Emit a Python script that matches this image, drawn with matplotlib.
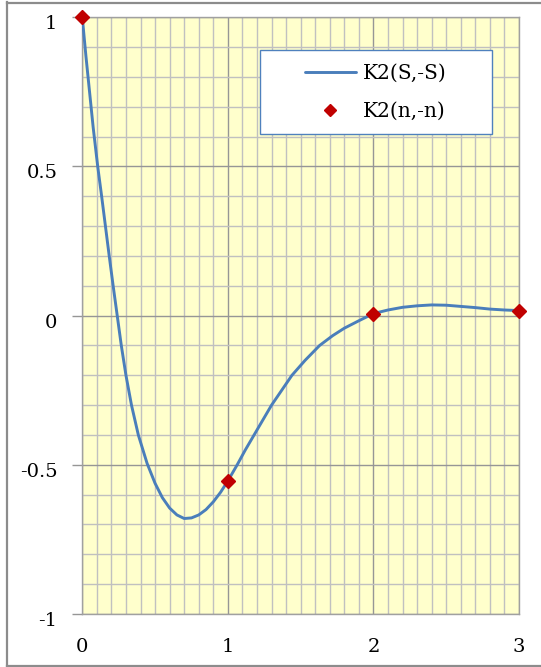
import matplotlib
matplotlib.use("Agg")
import matplotlib.pyplot as plt
from matplotlib.lines import Line2D
from matplotlib.patches import Rectangle
from matplotlib.ticker import MultipleLocator
from matplotlib.transforms import ScaledTranslation

# ── data ───────────────────────────────────────────────────────────────────
curve_x = [0.0, 0.025, 0.05, 0.075, 0.106, 0.133, 0.159, 0.185, 0.212, 0.240,
           0.268, 0.300, 0.338, 0.385, 0.445, 0.50, 0.55, 0.60, 0.65, 0.70,
           0.75, 0.80, 0.85, 0.90, 0.95, 1.0, 1.064, 1.12, 1.18, 1.24,
           1.30, 1.37, 1.44, 1.53, 1.63, 1.72, 1.80, 1.90, 2.0, 2.1,
           2.2, 2.3, 2.4, 2.5, 2.6, 2.7, 2.8, 2.9, 3.0]
curve_y = [1.0, 0.87, 0.75, 0.63, 0.5, 0.4, 0.3, 0.2, 0.1, 0.0,
           -0.1, -0.2, -0.3, -0.4, -0.495, -0.562, -0.610, -0.645, -0.668, -0.680,
           -0.678, -0.668, -0.650, -0.624, -0.592, -0.554, -0.5, -0.45, -0.4, -0.35,
           -0.3, -0.25, -0.2, -0.15, -0.1, -0.067, -0.042, -0.017, 0.007, 0.019,
           0.028, 0.033, 0.036, 0.035, 0.031, 0.027, 0.022, 0.019, 0.017]
n_x = [0, 1, 2, 3]
n_y = [1.0, -0.554, 0.007, 0.017]
series_labels = ["K2(S,-S)", "K2(n,-n)"]

plt.rcParams["font.family"] = ["DejaVu Serif"]
plt.rcParams["axes.unicode_minus"] = False

fig = plt.figure(figsize=(5.41, 6.67), dpi=100)
ax = fig.add_axes([0.1521, 0.0795, 0.8073, 0.8945])
ax.set_facecolor("#ffffcc")

ax.set_xlim(0, 3)
ax.set_ylim(-1, 1)
ax.xaxis.set_major_locator(MultipleLocator(1))
ax.xaxis.set_minor_locator(MultipleLocator(0.1))
ax.yaxis.set_major_locator(MultipleLocator(0.5))
ax.yaxis.set_minor_locator(MultipleLocator(0.1))
ax.xaxis.set_major_formatter(lambda v, p: f"{v:g}")
ax.yaxis.set_major_formatter(lambda v, p: f"{v:g}")

ax.grid(which="minor", color="#c0c0c0", lw=1.0)
ax.grid(which="major", color="#969696", lw=1.0)
ax.set_axisbelow(True)
for s in ax.spines.values():
    s.set_color("#a0a0a0")
    s.set_linewidth(1.0)

ax.tick_params(axis="x", which="both", length=0, pad=17, labelsize=14)
ax.tick_params(axis="y", which="major", length=7, width=1, color="#969696",
               direction="out", pad=11, labelsize=14)
ax.tick_params(axis="y", which="minor", length=0)
shift = ScaledTranslation(0, -5 / 100, fig.dpi_scale_trans)
for lab in ax.get_yticklabels():
    lab.set_transform(lab.get_transform() + shift)

line, = ax.plot(curve_x, curve_y, color="#4a7ebb", lw=2.1, zorder=3,
                solid_joinstyle="round", solid_capstyle="round")
pts, = ax.plot(n_x, n_y, ls="none", marker="D", ms=7.5, color="#c00000",
               mec="#c00000", zorder=4, clip_on=False)

# legend box
ax.add_patch(Rectangle((0.407, 0.804), 0.531, 0.142, transform=ax.transAxes,
                       fc="white", ec="#4f81bd", lw=1.0, zorder=5))
leg = ax.legend([line, pts], series_labels, loc="center",
                bbox_to_anchor=(0.672, 0.874), frameon=False, fontsize=14.5,
                handlelength=2.5, handletextpad=0.35, labelspacing=0.95,
                markerscale=0.8, borderpad=0)
leg.set_zorder(6)

# outer chart border
for xs, ys in (([7, 7], [2, 666]), ([7, 541], [2.5, 2.5]), ([7, 541], [665.5, 665.5])):
    fig.add_artist(Line2D([x / 541 for x in xs], [1 - y / 667 for y in ys],
                          color="#8c8c8c", lw=1.6))

fig.savefig("out.png", dpi=100)
